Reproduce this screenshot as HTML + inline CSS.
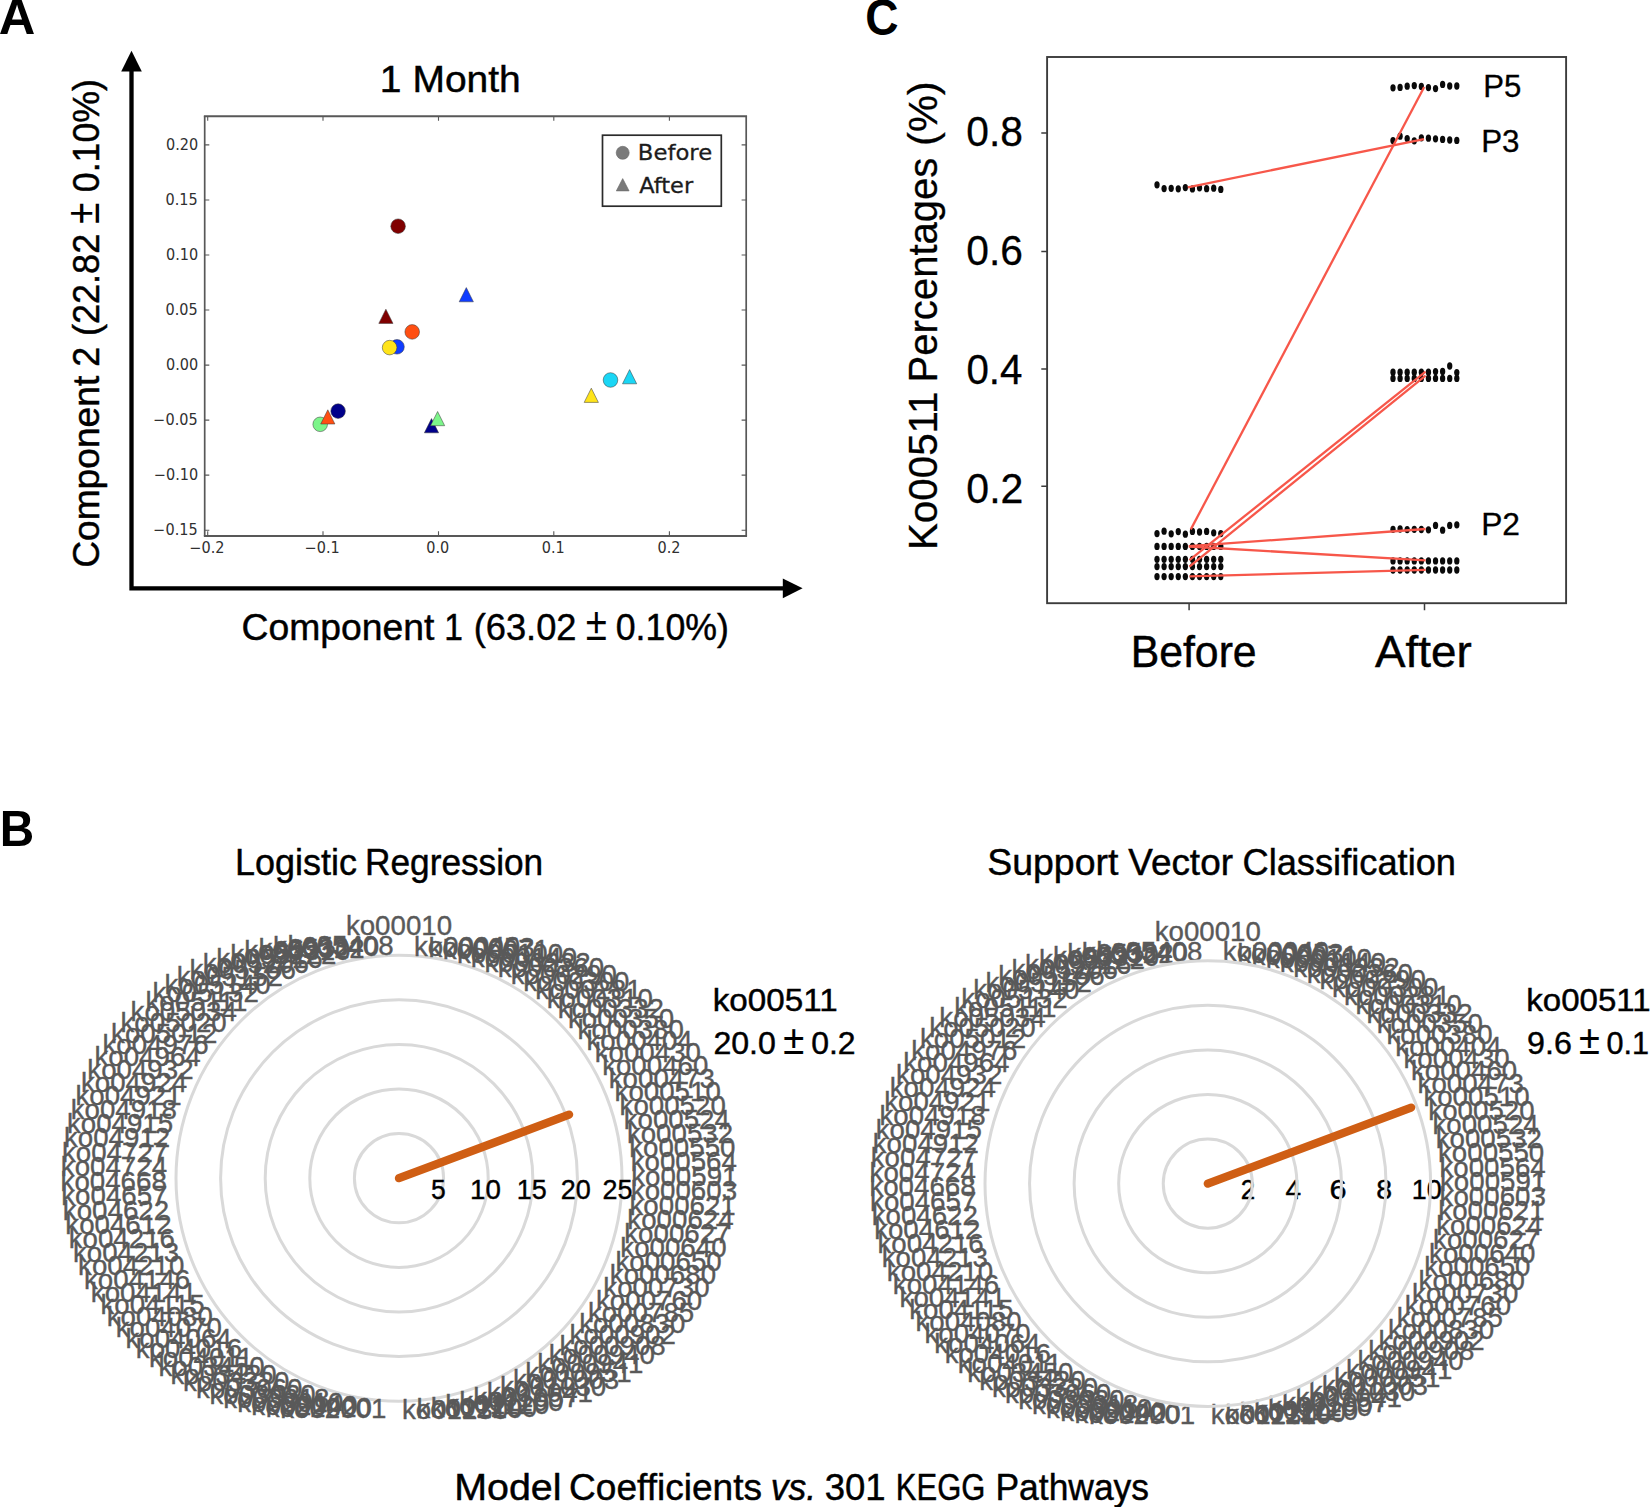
<!DOCTYPE html>
<html lang="en">
<head>
<meta charset="utf-8">
<title>Figure: PCA, model coefficients and Ko00511 percentages</title>
<style>
html,body{margin:0;padding:0;background:#fff;}
body{width:1650px;height:1507px;overflow:hidden;}
svg{display:block;font-family:"Liberation Sans", Arial, sans-serif;}
svg .dj{font-family:"DejaVu Sans", "Liberation Sans", sans-serif;}
</style>
</head>
<body>
<svg width="1650" height="1507" viewBox="0 0 1650 1507">
<rect x="0" y="0" width="1650" height="1507" fill="#ffffff"/>
<g id="panelA">
<text x="-1.26" y="34.30" font-size="49.5" fill="#000" textLength="36.54" lengthAdjust="spacingAndGlyphs" font-weight="bold">A</text>
<path d="M131.5 70 L131.5 588.3 L783.5 588.3" fill="none" stroke="#000" stroke-width="4.3" stroke-linejoin="miter"/>
<path d="M131.5 50.8 L121.2 71.6 L141.8 71.6 Z" fill="#000"/>
<path d="M802.6 588.3 L782.8 578.4 L782.8 598.1999999999999 Z" fill="#000"/>
<text x="379.88" y="91.50" font-size="36.7" fill="#000" textLength="140.90" lengthAdjust="spacingAndGlyphs" stroke="#000" stroke-width="0.45">1 Month</text>
<rect x="204.7" y="116.2" width="541.50" height="419.70" fill="#fff" stroke="none"/>
<path d="M203.85 116.2 H747.0500000000001 M203.85 535.9 H747.0500000000001" stroke="#585858" stroke-width="2.0" fill="none"/>
<path d="M204.7 116.2 V535.9 M746.2 116.2 V535.9" stroke="#585858" stroke-width="1.7" fill="none"/>
<path d="M207.7 535.9 v-4.6 M207.7 116.2 v4.6 M323.0 535.9 v-4.6 M323.0 116.2 v4.6 M438.5 535.9 v-4.6 M438.5 116.2 v4.6 M553.8 535.9 v-4.6 M553.8 116.2 v4.6 M669.4 535.9 v-4.6 M669.4 116.2 v4.6 M204.7 144.9 h4.6 M746.2 144.9 h-4.6 M204.7 200.0 h4.6 M746.2 200.0 h-4.6 M204.7 255.0 h4.6 M746.2 255.0 h-4.6 M204.7 310.0 h4.6 M746.2 310.0 h-4.6 M204.7 365.1 h4.6 M746.2 365.1 h-4.6 M204.7 420.1 h4.6 M746.2 420.1 h-4.6 M204.7 475.1 h4.6 M746.2 475.1 h-4.6 M204.7 530.2 h4.6 M746.2 530.2 h-4.6 " stroke="#585858" stroke-width="1.1" fill="none"/>
<text x="189.41" y="553.20" font-size="15.5" fill="#303030" textLength="35.09" lengthAdjust="spacingAndGlyphs" class="dj">−0.2</text>
<text x="304.65" y="553.20" font-size="15.5" fill="#303030" textLength="35.09" lengthAdjust="spacingAndGlyphs" class="dj">−0.1</text>
<text x="426.31" y="553.20" font-size="15.5" fill="#303030" textLength="22.98" lengthAdjust="spacingAndGlyphs" class="dj">0.0</text>
<text x="541.79" y="553.20" font-size="15.5" fill="#303030" textLength="22.98" lengthAdjust="spacingAndGlyphs" class="dj">0.1</text>
<text x="657.45" y="553.20" font-size="15.5" fill="#303030" textLength="22.98" lengthAdjust="spacingAndGlyphs" class="dj">0.2</text>
<text x="166.09" y="149.90" font-size="15.5" fill="#303030" textLength="32.18" lengthAdjust="spacingAndGlyphs" class="dj">0.20</text>
<text x="165.47" y="205.00" font-size="15.5" fill="#303030" textLength="32.18" lengthAdjust="spacingAndGlyphs" class="dj">0.15</text>
<text x="166.09" y="260.00" font-size="15.5" fill="#303030" textLength="32.18" lengthAdjust="spacingAndGlyphs" class="dj">0.10</text>
<text x="165.47" y="315.00" font-size="15.5" fill="#303030" textLength="32.18" lengthAdjust="spacingAndGlyphs" class="dj">0.05</text>
<text x="166.09" y="370.10" font-size="15.5" fill="#303030" textLength="32.18" lengthAdjust="spacingAndGlyphs" class="dj">0.00</text>
<text x="153.37" y="425.10" font-size="15.5" fill="#303030" textLength="44.29" lengthAdjust="spacingAndGlyphs" class="dj">−0.05</text>
<text x="153.98" y="480.10" font-size="15.5" fill="#303030" textLength="44.29" lengthAdjust="spacingAndGlyphs" class="dj">−0.10</text>
<text x="153.37" y="535.20" font-size="15.5" fill="#303030" textLength="44.29" lengthAdjust="spacingAndGlyphs" class="dj">−0.15</text>
<rect x="602.5" y="135.2" width="118.8" height="71.0" fill="#fff" stroke="#2b2b2b" stroke-width="1.7"/>
<circle cx="622.7" cy="152.8" r="6.5" fill="#7a7a7a" stroke="#666" stroke-width="0.6"/>
<path d="M622.7 178.6 L629.1 190.9 L616.3 190.9 Z" fill="#7a7a7a" stroke="#666" stroke-width="0.6"/>
<text x="637.78" y="159.80" font-size="21.8" fill="#1c1c1c" textLength="74.40" lengthAdjust="spacingAndGlyphs" class="dj" stroke="#1c1c1c" stroke-width="0.3">Before</text>
<text x="639.23" y="192.80" font-size="21.8" fill="#1c1c1c" textLength="53.94" lengthAdjust="spacingAndGlyphs" class="dj" stroke="#1c1c1c" stroke-width="0.3">After</text>
<circle cx="398.1" cy="226.2" r="7.3" fill="#800000" stroke="#3b3b3b" stroke-width="0.7" stroke-opacity="0.75"/>
<path d="M466.3 287.6 L473.4 301.8 L459.2 301.8 Z" fill="#0f3cff" stroke="#3b3b3b" stroke-width="0.7" stroke-opacity="0.75" stroke-linejoin="miter"/>
<path d="M385.9 309.2 L393.0 323.4 L378.8 323.4 Z" fill="#800000" stroke="#3b3b3b" stroke-width="0.7" stroke-opacity="0.75" stroke-linejoin="miter"/>
<circle cx="412.2" cy="331.9" r="7.3" fill="#ff4f12" stroke="#3b3b3b" stroke-width="0.7" stroke-opacity="0.75"/>
<circle cx="397.0" cy="346.8" r="7.3" fill="#0f3cff" stroke="#3b3b3b" stroke-width="0.7" stroke-opacity="0.75"/>
<circle cx="389.6" cy="347.6" r="7.3" fill="#ffe41a" stroke="#3b3b3b" stroke-width="0.7" stroke-opacity="0.75"/>
<circle cx="320.2" cy="424.3" r="7.3" fill="#7cf58a" stroke="#3b3b3b" stroke-width="0.7" stroke-opacity="0.75"/>
<path d="M327.8 409.8 L334.9 424.0 L320.7 424.0 Z" fill="#ff4f12" stroke="#3b3b3b" stroke-width="0.7" stroke-opacity="0.75" stroke-linejoin="miter"/>
<circle cx="338.1" cy="411.1" r="7.3" fill="#00008a" stroke="#3b3b3b" stroke-width="0.7" stroke-opacity="0.75"/>
<path d="M431.5 418.6 L438.6 432.8 L424.4 432.8 Z" fill="#00008a" stroke="#3b3b3b" stroke-width="0.7" stroke-opacity="0.75" stroke-linejoin="miter"/>
<path d="M437.6 411.5 L444.7 425.7 L430.5 425.7 Z" fill="#7cf58a" stroke="#3b3b3b" stroke-width="0.7" stroke-opacity="0.75" stroke-linejoin="miter"/>
<path d="M591.3 388.2 L598.4 402.4 L584.2 402.4 Z" fill="#ffe41a" stroke="#3b3b3b" stroke-width="0.7" stroke-opacity="0.75" stroke-linejoin="miter"/>
<circle cx="610.5" cy="380.0" r="7.3" fill="#1ad6f5" stroke="#3b3b3b" stroke-width="0.7" stroke-opacity="0.75"/>
<path d="M629.6 369.6 L636.7 383.8 L622.5 383.8 Z" fill="#1ad6f5" stroke="#3b3b3b" stroke-width="0.7" stroke-opacity="0.75" stroke-linejoin="miter"/>
<text x="241.53" y="639.50" font-size="36.7" fill="#000" textLength="192.85" lengthAdjust="spacingAndGlyphs" stroke="#000" stroke-width="0.45">Component</text>
<text x="444.19" y="639.50" font-size="36.7" fill="#000" textLength="18.65" lengthAdjust="spacingAndGlyphs" stroke="#000" stroke-width="0.45">1</text>
<text x="473.73" y="639.50" font-size="36.7" fill="#000" textLength="102.80" lengthAdjust="spacingAndGlyphs" stroke="#000" stroke-width="0.45">(63.02</text>
<text x="585.65" y="639.50" font-size="46.976000000000006" fill="#000" textLength="21.16" lengthAdjust="spacingAndGlyphs">±</text>
<text x="615.77" y="639.50" font-size="36.7" fill="#000" textLength="113.11" lengthAdjust="spacingAndGlyphs" stroke="#000" stroke-width="0.45">0.10%)</text>
<text x="98.80" y="567.86" transform="rotate(-90 98.80 567.86)" font-size="36.7" fill="#000" textLength="192.14" lengthAdjust="spacingAndGlyphs" stroke="#000" stroke-width="0.45">Component</text>
<text x="98.80" y="366.69" transform="rotate(-90 98.80 366.69)" font-size="36.7" fill="#000" textLength="19.92" lengthAdjust="spacingAndGlyphs" stroke="#000" stroke-width="0.45">2</text>
<text x="98.80" y="336.05" transform="rotate(-90 98.80 336.05)" font-size="36.7" fill="#000" textLength="102.28" lengthAdjust="spacingAndGlyphs" stroke="#000" stroke-width="0.45">(22.82</text>
<text x="98.80" y="224.07" transform="rotate(-90 98.80 224.07)" font-size="46.976000000000006" fill="#000" textLength="21.39" lengthAdjust="spacingAndGlyphs">±</text>
<text x="98.80" y="192.23" transform="rotate(-90 98.80 192.23)" font-size="36.7" fill="#000" textLength="113.21" lengthAdjust="spacingAndGlyphs" stroke="#000" stroke-width="0.45">0.10%)</text>
</g>
<g id="panelC">
<text x="865.26" y="34.50" font-size="49.5" fill="#000" textLength="33.30" lengthAdjust="spacingAndGlyphs" font-weight="bold">C</text>
<rect x="1047.1" y="57.0" width="519.00" height="546.20" fill="#fff" stroke="#3c3c3c" stroke-width="1.9"/>
<path d="M1047.1 133.1 h-5.8 M1047.1 251.4 h-5.8 M1047.1 369.1 h-5.8 M1047.1 486.3 h-5.8 M1189.1 603.2 v7 M1424.5 603.2 v7 " stroke="#3c3c3c" stroke-width="1.5" fill="none"/>
<text x="966.37" y="145.90" font-size="42.5" fill="#000" textLength="56.67" lengthAdjust="spacingAndGlyphs" stroke="#000" stroke-width="0.3">0.8</text>
<text x="966.37" y="265.20" font-size="42.5" fill="#000" textLength="56.67" lengthAdjust="spacingAndGlyphs" stroke="#000" stroke-width="0.3">0.6</text>
<text x="966.39" y="384.10" font-size="42.5" fill="#000" textLength="56.03" lengthAdjust="spacingAndGlyphs" stroke="#000" stroke-width="0.3">0.4</text>
<text x="966.36" y="503.20" font-size="42.5" fill="#000" textLength="57.00" lengthAdjust="spacingAndGlyphs" stroke="#000" stroke-width="0.3">0.2</text>
<text x="937.30" y="550.03" transform="rotate(-90 937.30 550.03)" font-size="41.0" fill="#000" textLength="158.54" lengthAdjust="spacingAndGlyphs" stroke="#000" stroke-width="0.3">Ko00511</text>
<text x="937.30" y="382.50" transform="rotate(-90 937.30 382.50)" font-size="41.0" fill="#000" textLength="224.90" lengthAdjust="spacingAndGlyphs" stroke="#000" stroke-width="0.3">Percentages</text>
<text x="937.30" y="145.90" transform="rotate(-90 937.30 145.90)" font-size="41.0" fill="#000" textLength="64.60" lengthAdjust="spacingAndGlyphs" stroke="#000" stroke-width="0.3">(%)</text>
<text x="1130.67" y="666.80" font-size="43.5" fill="#000" textLength="126.00" lengthAdjust="spacingAndGlyphs" stroke="#000" stroke-width="0.45">Before</text>
<text x="1374.99" y="666.80" font-size="43.5" fill="#000" textLength="96.67" lengthAdjust="spacingAndGlyphs" stroke="#000" stroke-width="0.45">After</text>
<text x="1483.23" y="96.60" font-size="31.3" fill="#000" textLength="38.14" lengthAdjust="spacingAndGlyphs" stroke="#000" stroke-width="0.3">P5</text>
<text x="1481.21" y="151.60" font-size="31.3" fill="#000" textLength="38.34" lengthAdjust="spacingAndGlyphs" stroke="#000" stroke-width="0.3">P3</text>
<text x="1481.18" y="534.80" font-size="31.3" fill="#000" textLength="38.83" lengthAdjust="spacingAndGlyphs" stroke="#000" stroke-width="0.3">P2</text>
<ellipse cx="1157.00" cy="184.80" rx="2.65" ry="3.65" fill="#0a0a0a"/>
<ellipse cx="1164.09" cy="188.60" rx="2.65" ry="3.65" fill="#0a0a0a"/>
<ellipse cx="1171.18" cy="188.30" rx="2.65" ry="3.65" fill="#0a0a0a"/>
<ellipse cx="1178.27" cy="188.80" rx="2.65" ry="3.65" fill="#0a0a0a"/>
<ellipse cx="1185.36" cy="187.60" rx="2.65" ry="3.65" fill="#0a0a0a"/>
<ellipse cx="1192.44" cy="188.90" rx="2.65" ry="3.65" fill="#0a0a0a"/>
<ellipse cx="1199.53" cy="187.80" rx="2.65" ry="3.65" fill="#0a0a0a"/>
<ellipse cx="1206.62" cy="188.70" rx="2.65" ry="3.65" fill="#0a0a0a"/>
<ellipse cx="1213.71" cy="188.20" rx="2.65" ry="3.65" fill="#0a0a0a"/>
<ellipse cx="1220.80" cy="189.40" rx="2.65" ry="3.65" fill="#0a0a0a"/>
<ellipse cx="1157.00" cy="533.60" rx="2.65" ry="3.65" fill="#0a0a0a"/>
<ellipse cx="1164.09" cy="531.20" rx="2.65" ry="3.65" fill="#0a0a0a"/>
<ellipse cx="1171.18" cy="533.80" rx="2.65" ry="3.65" fill="#0a0a0a"/>
<ellipse cx="1178.27" cy="531.60" rx="2.65" ry="3.65" fill="#0a0a0a"/>
<ellipse cx="1185.36" cy="534.20" rx="2.65" ry="3.65" fill="#0a0a0a"/>
<ellipse cx="1192.44" cy="531.40" rx="2.65" ry="3.65" fill="#0a0a0a"/>
<ellipse cx="1199.53" cy="532.00" rx="2.65" ry="3.65" fill="#0a0a0a"/>
<ellipse cx="1206.62" cy="531.40" rx="2.65" ry="3.65" fill="#0a0a0a"/>
<ellipse cx="1213.71" cy="532.80" rx="2.65" ry="3.65" fill="#0a0a0a"/>
<ellipse cx="1220.80" cy="533.60" rx="2.65" ry="3.65" fill="#0a0a0a"/>
<ellipse cx="1157.00" cy="546.40" rx="2.65" ry="3.65" fill="#0a0a0a"/>
<ellipse cx="1164.09" cy="546.40" rx="2.65" ry="3.65" fill="#0a0a0a"/>
<ellipse cx="1171.18" cy="546.40" rx="2.65" ry="3.65" fill="#0a0a0a"/>
<ellipse cx="1178.27" cy="546.40" rx="2.65" ry="3.65" fill="#0a0a0a"/>
<ellipse cx="1185.36" cy="546.40" rx="2.65" ry="3.65" fill="#0a0a0a"/>
<ellipse cx="1192.44" cy="546.40" rx="2.65" ry="3.65" fill="#0a0a0a"/>
<ellipse cx="1199.53" cy="546.40" rx="2.65" ry="3.65" fill="#0a0a0a"/>
<ellipse cx="1206.62" cy="546.40" rx="2.65" ry="3.65" fill="#0a0a0a"/>
<ellipse cx="1213.71" cy="546.40" rx="2.65" ry="3.65" fill="#0a0a0a"/>
<ellipse cx="1220.80" cy="546.40" rx="2.65" ry="3.65" fill="#0a0a0a"/>
<ellipse cx="1157.00" cy="559.30" rx="2.65" ry="3.65" fill="#0a0a0a"/>
<ellipse cx="1164.09" cy="559.30" rx="2.65" ry="3.65" fill="#0a0a0a"/>
<ellipse cx="1171.18" cy="559.30" rx="2.65" ry="3.65" fill="#0a0a0a"/>
<ellipse cx="1178.27" cy="559.30" rx="2.65" ry="3.65" fill="#0a0a0a"/>
<ellipse cx="1185.36" cy="559.30" rx="2.65" ry="3.65" fill="#0a0a0a"/>
<ellipse cx="1192.44" cy="559.30" rx="2.65" ry="3.65" fill="#0a0a0a"/>
<ellipse cx="1199.53" cy="559.30" rx="2.65" ry="3.65" fill="#0a0a0a"/>
<ellipse cx="1206.62" cy="559.30" rx="2.65" ry="3.65" fill="#0a0a0a"/>
<ellipse cx="1213.71" cy="559.30" rx="2.65" ry="3.65" fill="#0a0a0a"/>
<ellipse cx="1220.80" cy="559.30" rx="2.65" ry="3.65" fill="#0a0a0a"/>
<ellipse cx="1157.00" cy="566.60" rx="2.65" ry="3.65" fill="#0a0a0a"/>
<ellipse cx="1164.09" cy="566.60" rx="2.65" ry="3.65" fill="#0a0a0a"/>
<ellipse cx="1171.18" cy="566.60" rx="2.65" ry="3.65" fill="#0a0a0a"/>
<ellipse cx="1178.27" cy="566.60" rx="2.65" ry="3.65" fill="#0a0a0a"/>
<ellipse cx="1185.36" cy="566.60" rx="2.65" ry="3.65" fill="#0a0a0a"/>
<ellipse cx="1192.44" cy="566.60" rx="2.65" ry="3.65" fill="#0a0a0a"/>
<ellipse cx="1199.53" cy="566.60" rx="2.65" ry="3.65" fill="#0a0a0a"/>
<ellipse cx="1206.62" cy="566.60" rx="2.65" ry="3.65" fill="#0a0a0a"/>
<ellipse cx="1213.71" cy="566.60" rx="2.65" ry="3.65" fill="#0a0a0a"/>
<ellipse cx="1220.80" cy="566.60" rx="2.65" ry="3.65" fill="#0a0a0a"/>
<ellipse cx="1157.00" cy="576.60" rx="2.65" ry="3.65" fill="#0a0a0a"/>
<ellipse cx="1164.09" cy="576.60" rx="2.65" ry="3.65" fill="#0a0a0a"/>
<ellipse cx="1171.18" cy="576.60" rx="2.65" ry="3.65" fill="#0a0a0a"/>
<ellipse cx="1178.27" cy="576.60" rx="2.65" ry="3.65" fill="#0a0a0a"/>
<ellipse cx="1185.36" cy="576.60" rx="2.65" ry="3.65" fill="#0a0a0a"/>
<ellipse cx="1192.44" cy="576.60" rx="2.65" ry="3.65" fill="#0a0a0a"/>
<ellipse cx="1199.53" cy="576.60" rx="2.65" ry="3.65" fill="#0a0a0a"/>
<ellipse cx="1206.62" cy="576.60" rx="2.65" ry="3.65" fill="#0a0a0a"/>
<ellipse cx="1213.71" cy="576.60" rx="2.65" ry="3.65" fill="#0a0a0a"/>
<ellipse cx="1220.80" cy="576.60" rx="2.65" ry="3.65" fill="#0a0a0a"/>
<ellipse cx="1393.00" cy="87.80" rx="2.65" ry="3.65" fill="#0a0a0a"/>
<ellipse cx="1400.09" cy="87.40" rx="2.65" ry="3.65" fill="#0a0a0a"/>
<ellipse cx="1407.18" cy="86.20" rx="2.65" ry="3.65" fill="#0a0a0a"/>
<ellipse cx="1414.27" cy="85.60" rx="2.65" ry="3.65" fill="#0a0a0a"/>
<ellipse cx="1421.36" cy="86.40" rx="2.65" ry="3.65" fill="#0a0a0a"/>
<ellipse cx="1428.44" cy="87.60" rx="2.65" ry="3.65" fill="#0a0a0a"/>
<ellipse cx="1435.53" cy="88.60" rx="2.65" ry="3.65" fill="#0a0a0a"/>
<ellipse cx="1442.62" cy="84.40" rx="2.65" ry="3.65" fill="#0a0a0a"/>
<ellipse cx="1449.71" cy="86.00" rx="2.65" ry="3.65" fill="#0a0a0a"/>
<ellipse cx="1456.80" cy="86.00" rx="2.65" ry="3.65" fill="#0a0a0a"/>
<ellipse cx="1393.00" cy="140.60" rx="2.65" ry="3.65" fill="#0a0a0a"/>
<ellipse cx="1400.09" cy="136.20" rx="2.65" ry="3.65" fill="#0a0a0a"/>
<ellipse cx="1407.18" cy="138.60" rx="2.65" ry="3.65" fill="#0a0a0a"/>
<ellipse cx="1414.27" cy="140.80" rx="2.65" ry="3.65" fill="#0a0a0a"/>
<ellipse cx="1421.36" cy="137.80" rx="2.65" ry="3.65" fill="#0a0a0a"/>
<ellipse cx="1428.44" cy="138.20" rx="2.65" ry="3.65" fill="#0a0a0a"/>
<ellipse cx="1435.53" cy="138.80" rx="2.65" ry="3.65" fill="#0a0a0a"/>
<ellipse cx="1442.62" cy="139.40" rx="2.65" ry="3.65" fill="#0a0a0a"/>
<ellipse cx="1449.71" cy="140.00" rx="2.65" ry="3.65" fill="#0a0a0a"/>
<ellipse cx="1456.80" cy="140.40" rx="2.65" ry="3.65" fill="#0a0a0a"/>
<ellipse cx="1393.00" cy="372.20" rx="2.65" ry="3.65" fill="#0a0a0a"/>
<ellipse cx="1400.09" cy="372.20" rx="2.65" ry="3.65" fill="#0a0a0a"/>
<ellipse cx="1407.18" cy="372.20" rx="2.65" ry="3.65" fill="#0a0a0a"/>
<ellipse cx="1414.27" cy="372.20" rx="2.65" ry="3.65" fill="#0a0a0a"/>
<ellipse cx="1421.36" cy="372.20" rx="2.65" ry="3.65" fill="#0a0a0a"/>
<ellipse cx="1428.44" cy="372.20" rx="2.65" ry="3.65" fill="#0a0a0a"/>
<ellipse cx="1435.53" cy="371.60" rx="2.65" ry="3.65" fill="#0a0a0a"/>
<ellipse cx="1442.62" cy="371.40" rx="2.65" ry="3.65" fill="#0a0a0a"/>
<ellipse cx="1449.71" cy="366.00" rx="2.65" ry="3.65" fill="#0a0a0a"/>
<ellipse cx="1456.80" cy="372.60" rx="2.65" ry="3.65" fill="#0a0a0a"/>
<ellipse cx="1393.00" cy="378.40" rx="2.65" ry="3.65" fill="#0a0a0a"/>
<ellipse cx="1400.09" cy="378.40" rx="2.65" ry="3.65" fill="#0a0a0a"/>
<ellipse cx="1407.18" cy="378.40" rx="2.65" ry="3.65" fill="#0a0a0a"/>
<ellipse cx="1414.27" cy="378.40" rx="2.65" ry="3.65" fill="#0a0a0a"/>
<ellipse cx="1421.36" cy="378.40" rx="2.65" ry="3.65" fill="#0a0a0a"/>
<ellipse cx="1428.44" cy="378.40" rx="2.65" ry="3.65" fill="#0a0a0a"/>
<ellipse cx="1435.53" cy="378.40" rx="2.65" ry="3.65" fill="#0a0a0a"/>
<ellipse cx="1442.62" cy="378.40" rx="2.65" ry="3.65" fill="#0a0a0a"/>
<ellipse cx="1449.71" cy="378.40" rx="2.65" ry="3.65" fill="#0a0a0a"/>
<ellipse cx="1456.80" cy="378.40" rx="2.65" ry="3.65" fill="#0a0a0a"/>
<ellipse cx="1393.00" cy="529.30" rx="2.65" ry="3.65" fill="#0a0a0a"/>
<ellipse cx="1400.09" cy="529.00" rx="2.65" ry="3.65" fill="#0a0a0a"/>
<ellipse cx="1407.18" cy="529.60" rx="2.65" ry="3.65" fill="#0a0a0a"/>
<ellipse cx="1414.27" cy="529.30" rx="2.65" ry="3.65" fill="#0a0a0a"/>
<ellipse cx="1421.36" cy="529.50" rx="2.65" ry="3.65" fill="#0a0a0a"/>
<ellipse cx="1428.44" cy="529.80" rx="2.65" ry="3.65" fill="#0a0a0a"/>
<ellipse cx="1435.53" cy="525.40" rx="2.65" ry="3.65" fill="#0a0a0a"/>
<ellipse cx="1442.62" cy="530.20" rx="2.65" ry="3.65" fill="#0a0a0a"/>
<ellipse cx="1449.71" cy="525.40" rx="2.65" ry="3.65" fill="#0a0a0a"/>
<ellipse cx="1456.80" cy="524.80" rx="2.65" ry="3.65" fill="#0a0a0a"/>
<ellipse cx="1393.00" cy="560.90" rx="2.65" ry="3.65" fill="#0a0a0a"/>
<ellipse cx="1400.09" cy="560.90" rx="2.65" ry="3.65" fill="#0a0a0a"/>
<ellipse cx="1407.18" cy="560.90" rx="2.65" ry="3.65" fill="#0a0a0a"/>
<ellipse cx="1414.27" cy="560.90" rx="2.65" ry="3.65" fill="#0a0a0a"/>
<ellipse cx="1421.36" cy="560.90" rx="2.65" ry="3.65" fill="#0a0a0a"/>
<ellipse cx="1428.44" cy="560.90" rx="2.65" ry="3.65" fill="#0a0a0a"/>
<ellipse cx="1435.53" cy="560.90" rx="2.65" ry="3.65" fill="#0a0a0a"/>
<ellipse cx="1442.62" cy="560.90" rx="2.65" ry="3.65" fill="#0a0a0a"/>
<ellipse cx="1449.71" cy="560.90" rx="2.65" ry="3.65" fill="#0a0a0a"/>
<ellipse cx="1456.80" cy="560.90" rx="2.65" ry="3.65" fill="#0a0a0a"/>
<ellipse cx="1393.00" cy="570.00" rx="2.65" ry="3.65" fill="#0a0a0a"/>
<ellipse cx="1400.09" cy="570.00" rx="2.65" ry="3.65" fill="#0a0a0a"/>
<ellipse cx="1407.18" cy="570.00" rx="2.65" ry="3.65" fill="#0a0a0a"/>
<ellipse cx="1414.27" cy="570.00" rx="2.65" ry="3.65" fill="#0a0a0a"/>
<ellipse cx="1421.36" cy="570.00" rx="2.65" ry="3.65" fill="#0a0a0a"/>
<ellipse cx="1428.44" cy="570.00" rx="2.65" ry="3.65" fill="#0a0a0a"/>
<ellipse cx="1435.53" cy="570.00" rx="2.65" ry="3.65" fill="#0a0a0a"/>
<ellipse cx="1442.62" cy="570.00" rx="2.65" ry="3.65" fill="#0a0a0a"/>
<ellipse cx="1449.71" cy="570.00" rx="2.65" ry="3.65" fill="#0a0a0a"/>
<ellipse cx="1456.80" cy="570.00" rx="2.65" ry="3.65" fill="#0a0a0a"/>
<line x1="1187.8" y1="187.3" x2="1424.0" y2="139.1" stroke="#f7574a" stroke-width="2.3"/>
<line x1="1190.8" y1="529.4" x2="1424.2" y2="87.0" stroke="#f7574a" stroke-width="2.3"/>
<line x1="1189.4" y1="560.2" x2="1425.6" y2="371.6" stroke="#f7574a" stroke-width="2.3"/>
<line x1="1189.4" y1="566.6" x2="1425.6" y2="375.6" stroke="#f7574a" stroke-width="2.3"/>
<line x1="1188.8" y1="546.2" x2="1425.6" y2="529.0" stroke="#f7574a" stroke-width="2.3"/>
<line x1="1188.8" y1="546.5" x2="1425.6" y2="560.4" stroke="#f7574a" stroke-width="2.3"/>
<line x1="1189.4" y1="576.4" x2="1425.6" y2="569.8" stroke="#f7574a" stroke-width="2.3"/>
</g>
<g id="panelB">
<text x="-0.32" y="846.00" font-size="49.5" fill="#000" textLength="34.45" lengthAdjust="spacingAndGlyphs" font-weight="bold">B</text>
<text x="235.03" y="875.40" font-size="36.7" fill="#000" textLength="121.98" lengthAdjust="spacingAndGlyphs" stroke="#000" stroke-width="0.45">Logistic</text>
<text x="365.09" y="875.40" font-size="36.7" fill="#000" textLength="178.13" lengthAdjust="spacingAndGlyphs" stroke="#000" stroke-width="0.45">Regression</text>
<text x="987.21" y="875.40" font-size="36.7" fill="#000" textLength="131.17" lengthAdjust="spacingAndGlyphs" stroke="#000" stroke-width="0.45">Support</text>
<text x="1128.32" y="875.40" font-size="36.7" fill="#000" textLength="104.64" lengthAdjust="spacingAndGlyphs" stroke="#000" stroke-width="0.45">Vector</text>
<text x="1242.49" y="875.40" font-size="36.7" fill="#000" textLength="213.53" lengthAdjust="spacingAndGlyphs" stroke="#000" stroke-width="0.45">Classification</text>
<circle cx="399.0" cy="1178.2" r="44.60" fill="none" stroke="#d9d9d9" stroke-width="3.0"/>
<circle cx="399.0" cy="1178.2" r="89.20" fill="none" stroke="#d9d9d9" stroke-width="3.0"/>
<circle cx="399.0" cy="1178.2" r="133.80" fill="none" stroke="#d9d9d9" stroke-width="3.0"/>
<circle cx="399.0" cy="1178.2" r="178.40" fill="none" stroke="#d9d9d9" stroke-width="3.0"/>
<circle cx="399.0" cy="1178.2" r="223.00" fill="none" stroke="#d9d9d9" stroke-width="3.0"/>
<g font-size="27.7" fill="#595959" stroke="#595959" stroke-width="0.35">
<text x="399.00" y="935.20" text-anchor="middle">ko00010</text>
<text x="414.00" y="955.85">ko00040</text>
<text x="428.44" y="957.21">ko00053</text>
<text x="442.77" y="959.48">ko00071</text>
<text x="456.93" y="962.63">ko00100</text>
<text x="470.87" y="966.67">ko00140</text>
<text x="484.52" y="971.56">ko00232</text>
<text x="497.85" y="977.31">ko00260</text>
<text x="510.78" y="983.87">ko00290</text>
<text x="523.28" y="991.24">ko00300</text>
<text x="535.30" y="999.37">ko00281</text>
<text x="546.78" y="1008.23">ko00310</text>
<text x="557.69" y="1017.80">ko00332</text>
<text x="567.97" y="1028.03">ko00350</text>
<text x="577.60" y="1038.89">ko00380</text>
<text x="586.52" y="1050.32">ko00404</text>
<text x="594.72" y="1062.30">ko00430</text>
<text x="602.14" y="1074.76">ko00460</text>
<text x="608.78" y="1087.66">ko00473</text>
<text x="614.59" y="1100.95">ko00510</text>
<text x="619.56" y="1114.58">ko00520</text>
<text x="623.67" y="1128.50">ko00524</text>
<text x="626.89" y="1142.64">ko00532</text>
<text x="629.23" y="1156.96">ko00550</text>
<text x="630.67" y="1171.39">ko00564</text>
<text x="631.20" y="1185.89">ko00591</text>
<text x="630.82" y="1200.39">ko00603</text>
<text x="629.53" y="1214.84">ko00621</text>
<text x="627.35" y="1229.19">ko00624</text>
<text x="624.27" y="1243.36">ko00627</text>
<text x="620.30" y="1257.32">ko00640</text>
<text x="615.48" y="1271.00">ko00650</text>
<text x="609.80" y="1284.35">ko00680</text>
<text x="603.30" y="1297.32">ko00730</text>
<text x="596.01" y="1309.86">ko00760</text>
<text x="587.94" y="1321.92">ko00785</text>
<text x="579.13" y="1333.45">ko00830</text>
<text x="569.62" y="1344.40">ko00902</text>
<text x="559.44" y="1354.74">ko00908</text>
<text x="548.64" y="1364.42">ko00940</text>
<text x="537.25" y="1373.41">ko00941</text>
<text x="525.32" y="1381.66">ko00951</text>
<text x="512.90" y="1389.15">ko01003</text>
<text x="500.03" y="1395.85">ko01030</text>
<text x="486.77" y="1401.74">ko01041</text>
<text x="473.17" y="1406.78">ko01057</text>
<text x="459.27" y="1410.96">ko01100</text>
<text x="445.15" y="1414.26">ko01120</text>
<text x="430.84" y="1416.67">ko01200</text>
<text x="416.41" y="1418.18">ko01210</text>
<text x="401.92" y="1418.79">ko01230</text>
<text x="386.41" y="1418.48" text-anchor="end">ko02001</text>
<text x="371.96" y="1417.27" text-anchor="end">ko02020</text>
<text x="357.60" y="1415.16" text-anchor="end">ko02040</text>
<text x="343.41" y="1412.16" text-anchor="end">ko03010</text>
<text x="329.44" y="1408.27" text-anchor="end">ko03018</text>
<text x="315.73" y="1403.51" text-anchor="end">ko03030</text>
<text x="302.35" y="1397.91" text-anchor="end">ko03060</text>
<text x="289.34" y="1391.48" text-anchor="end">ko03320</text>
<text x="276.77" y="1384.24" text-anchor="end">ko03420</text>
<text x="264.67" y="1376.24" text-anchor="end">ko03450</text>
<text x="253.09" y="1367.49" text-anchor="end">ko04011</text>
<text x="242.09" y="1358.04" text-anchor="end">ko04016</text>
<text x="231.70" y="1347.92" text-anchor="end">ko04064</text>
<text x="221.96" y="1337.16" text-anchor="end">ko04070</text>
<text x="212.92" y="1325.82" text-anchor="end">ko04080</text>
<text x="204.60" y="1313.93" text-anchor="end">ko04115</text>
<text x="197.04" y="1301.55" text-anchor="end">ko04141</text>
<text x="190.27" y="1288.72" text-anchor="end">ko04146</text>
<text x="184.32" y="1275.49" text-anchor="end">ko04210</text>
<text x="179.21" y="1261.91" text-anchor="end">ko04213</text>
<text x="174.96" y="1248.04" text-anchor="end">ko04216</text>
<text x="171.58" y="1233.93" text-anchor="end">ko04612</text>
<text x="169.10" y="1219.64" text-anchor="end">ko04622</text>
<text x="167.51" y="1205.22" text-anchor="end">ko04657</text>
<text x="166.83" y="1190.73" text-anchor="end">ko04668</text>
<text x="167.06" y="1176.22" text-anchor="end">ko04724</text>
<text x="168.19" y="1161.76" text-anchor="end">ko04727</text>
<text x="170.23" y="1147.40" text-anchor="end">ko04912</text>
<text x="173.16" y="1133.19" text-anchor="end">ko04915</text>
<text x="176.98" y="1119.19" text-anchor="end">ko04918</text>
<text x="181.66" y="1105.46" text-anchor="end">ko04921</text>
<text x="187.19" y="1092.05" text-anchor="end">ko04924</text>
<text x="193.56" y="1079.01" text-anchor="end">ko04932</text>
<text x="200.72" y="1066.40" text-anchor="end">ko04964</text>
<text x="208.66" y="1054.26" text-anchor="end">ko04976</text>
<text x="217.35" y="1042.64" text-anchor="end">ko05012</text>
<text x="226.75" y="1031.58" text-anchor="end">ko05020</text>
<text x="236.81" y="1021.14" text-anchor="end">ko05034</text>
<text x="247.52" y="1011.35" text-anchor="end">ko05111</text>
<text x="258.81" y="1002.24" text-anchor="end">ko05132</text>
<text x="270.66" y="993.86" text-anchor="end">ko05140</text>
<text x="283.00" y="986.24" text-anchor="end">ko05152</text>
<text x="295.80" y="979.41" text-anchor="end">ko05166</text>
<text x="309.00" y="973.39" text-anchor="end">ko05206</text>
<text x="322.55" y="968.20" text-anchor="end">ko05216</text>
<text x="336.39" y="963.88" text-anchor="end">ko05222</text>
<text x="350.48" y="960.43" text-anchor="end">ko05310</text>
<text x="364.76" y="957.87" text-anchor="end">ko05322</text>
<text x="379.18" y="956.21" text-anchor="end">ko05340</text>
<text x="393.66" y="955.45" text-anchor="end">ko05408</text>
</g>
<text x="430.94" y="1198.70" font-size="27.6" fill="#000" textLength="14.75" lengthAdjust="spacingAndGlyphs" stroke="#000" stroke-width="0.4">5</text>
<text x="470.12" y="1198.70" font-size="27.6" fill="#000" textLength="30.78" lengthAdjust="spacingAndGlyphs" stroke="#000" stroke-width="0.4">10</text>
<text x="516.68" y="1198.70" font-size="27.6" fill="#000" textLength="29.96" lengthAdjust="spacingAndGlyphs" stroke="#000" stroke-width="0.4">15</text>
<text x="560.65" y="1198.70" font-size="27.6" fill="#000" textLength="30.03" lengthAdjust="spacingAndGlyphs" stroke="#000" stroke-width="0.4">20</text>
<text x="602.45" y="1198.70" font-size="27.6" fill="#000" textLength="29.99" lengthAdjust="spacingAndGlyphs" stroke="#000" stroke-width="0.4">25</text>
<line x1="399.0" y1="1178.2" x2="569.10" y2="1114.60" stroke="#cf5e14" stroke-width="8.3" stroke-linecap="round"/>
<g font-size="27.7" fill="#595959" stroke="#595959" stroke-width="0.35">
<text x="1207.80" y="940.80" text-anchor="middle">ko00010</text>
<text x="1222.80" y="961.25">ko00040</text>
<text x="1237.24" y="962.61">ko00053</text>
<text x="1251.57" y="964.88">ko00071</text>
<text x="1265.73" y="968.03">ko00100</text>
<text x="1279.67" y="972.07">ko00140</text>
<text x="1293.32" y="976.96">ko00232</text>
<text x="1306.65" y="982.71">ko00260</text>
<text x="1319.58" y="989.27">ko00290</text>
<text x="1332.08" y="996.64">ko00300</text>
<text x="1344.10" y="1004.77">ko00281</text>
<text x="1355.58" y="1013.63">ko00310</text>
<text x="1366.49" y="1023.20">ko00332</text>
<text x="1376.77" y="1033.43">ko00350</text>
<text x="1386.40" y="1044.29">ko00380</text>
<text x="1395.32" y="1055.72">ko00404</text>
<text x="1403.52" y="1067.70">ko00430</text>
<text x="1410.94" y="1080.16">ko00460</text>
<text x="1417.58" y="1093.06">ko00473</text>
<text x="1423.39" y="1106.35">ko00510</text>
<text x="1428.36" y="1119.98">ko00520</text>
<text x="1432.47" y="1133.90">ko00524</text>
<text x="1435.69" y="1148.04">ko00532</text>
<text x="1438.03" y="1162.36">ko00550</text>
<text x="1439.47" y="1176.79">ko00564</text>
<text x="1440.00" y="1191.29">ko00591</text>
<text x="1439.62" y="1205.79">ko00603</text>
<text x="1438.33" y="1220.24">ko00621</text>
<text x="1436.15" y="1234.59">ko00624</text>
<text x="1433.07" y="1248.76">ko00627</text>
<text x="1429.10" y="1262.72">ko00640</text>
<text x="1424.28" y="1276.40">ko00650</text>
<text x="1418.60" y="1289.75">ko00680</text>
<text x="1412.10" y="1302.72">ko00730</text>
<text x="1404.81" y="1315.26">ko00760</text>
<text x="1396.74" y="1327.32">ko00785</text>
<text x="1387.93" y="1338.85">ko00830</text>
<text x="1378.42" y="1349.80">ko00902</text>
<text x="1368.24" y="1360.14">ko00908</text>
<text x="1357.44" y="1369.82">ko00940</text>
<text x="1346.05" y="1378.81">ko00941</text>
<text x="1334.12" y="1387.06">ko00951</text>
<text x="1321.70" y="1394.55">ko01003</text>
<text x="1308.83" y="1401.25">ko01030</text>
<text x="1295.57" y="1407.14">ko01041</text>
<text x="1281.97" y="1412.18">ko01057</text>
<text x="1268.07" y="1416.36">ko01100</text>
<text x="1253.95" y="1419.66">ko01120</text>
<text x="1239.64" y="1422.07">ko01200</text>
<text x="1225.21" y="1423.58">ko01210</text>
<text x="1210.72" y="1424.19">ko01230</text>
<text x="1195.21" y="1423.88" text-anchor="end">ko02001</text>
<text x="1180.76" y="1422.67" text-anchor="end">ko02020</text>
<text x="1166.40" y="1420.56" text-anchor="end">ko02040</text>
<text x="1152.21" y="1417.56" text-anchor="end">ko03010</text>
<text x="1138.24" y="1413.67" text-anchor="end">ko03018</text>
<text x="1124.53" y="1408.91" text-anchor="end">ko03030</text>
<text x="1111.15" y="1403.31" text-anchor="end">ko03060</text>
<text x="1098.14" y="1396.88" text-anchor="end">ko03320</text>
<text x="1085.57" y="1389.64" text-anchor="end">ko03420</text>
<text x="1073.47" y="1381.64" text-anchor="end">ko03450</text>
<text x="1061.89" y="1372.89" text-anchor="end">ko04011</text>
<text x="1050.89" y="1363.44" text-anchor="end">ko04016</text>
<text x="1040.50" y="1353.32" text-anchor="end">ko04064</text>
<text x="1030.76" y="1342.56" text-anchor="end">ko04070</text>
<text x="1021.72" y="1331.22" text-anchor="end">ko04080</text>
<text x="1013.40" y="1319.33" text-anchor="end">ko04115</text>
<text x="1005.84" y="1306.95" text-anchor="end">ko04141</text>
<text x="999.07" y="1294.12" text-anchor="end">ko04146</text>
<text x="993.12" y="1280.89" text-anchor="end">ko04210</text>
<text x="988.01" y="1267.31" text-anchor="end">ko04213</text>
<text x="983.76" y="1253.44" text-anchor="end">ko04216</text>
<text x="980.38" y="1239.33" text-anchor="end">ko04612</text>
<text x="977.90" y="1225.04" text-anchor="end">ko04622</text>
<text x="976.31" y="1210.62" text-anchor="end">ko04657</text>
<text x="975.63" y="1196.13" text-anchor="end">ko04668</text>
<text x="975.86" y="1181.62" text-anchor="end">ko04724</text>
<text x="976.99" y="1167.16" text-anchor="end">ko04727</text>
<text x="979.03" y="1152.80" text-anchor="end">ko04912</text>
<text x="981.96" y="1138.59" text-anchor="end">ko04915</text>
<text x="985.78" y="1124.59" text-anchor="end">ko04918</text>
<text x="990.46" y="1110.86" text-anchor="end">ko04921</text>
<text x="995.99" y="1097.45" text-anchor="end">ko04924</text>
<text x="1002.36" y="1084.41" text-anchor="end">ko04932</text>
<text x="1009.52" y="1071.80" text-anchor="end">ko04964</text>
<text x="1017.46" y="1059.66" text-anchor="end">ko04976</text>
<text x="1026.15" y="1048.04" text-anchor="end">ko05012</text>
<text x="1035.55" y="1036.98" text-anchor="end">ko05020</text>
<text x="1045.61" y="1026.54" text-anchor="end">ko05034</text>
<text x="1056.32" y="1016.75" text-anchor="end">ko05111</text>
<text x="1067.61" y="1007.64" text-anchor="end">ko05132</text>
<text x="1079.46" y="999.26" text-anchor="end">ko05140</text>
<text x="1091.80" y="991.64" text-anchor="end">ko05152</text>
<text x="1104.60" y="984.81" text-anchor="end">ko05166</text>
<text x="1117.80" y="978.79" text-anchor="end">ko05206</text>
<text x="1131.35" y="973.60" text-anchor="end">ko05216</text>
<text x="1145.19" y="969.28" text-anchor="end">ko05222</text>
<text x="1159.28" y="965.83" text-anchor="end">ko05310</text>
<text x="1173.56" y="963.27" text-anchor="end">ko05322</text>
<text x="1187.98" y="961.61" text-anchor="end">ko05340</text>
<text x="1202.46" y="960.85" text-anchor="end">ko05408</text>
</g>
<text x="1240.70" y="1198.70" font-size="27.6" fill="#000" textLength="14.42" lengthAdjust="spacingAndGlyphs" stroke="#000" stroke-width="0.4">2</text>
<text x="1285.47" y="1198.70" font-size="27.6" fill="#000" textLength="15.64" lengthAdjust="spacingAndGlyphs" stroke="#000" stroke-width="0.4">4</text>
<text x="1329.46" y="1198.70" font-size="27.6" fill="#000" textLength="17.08" lengthAdjust="spacingAndGlyphs" stroke="#000" stroke-width="0.4">6</text>
<text x="1376.29" y="1198.70" font-size="27.6" fill="#000" textLength="15.86" lengthAdjust="spacingAndGlyphs" stroke="#000" stroke-width="0.4">8</text>
<text x="1411.78" y="1198.70" font-size="27.6" fill="#000" textLength="29.89" lengthAdjust="spacingAndGlyphs" stroke="#000" stroke-width="0.4">10</text>
<circle cx="1207.8" cy="1183.6" r="44.56" fill="none" stroke="#d9d9d9" stroke-width="3.0"/>
<circle cx="1207.8" cy="1183.6" r="89.12" fill="none" stroke="#d9d9d9" stroke-width="3.0"/>
<circle cx="1207.8" cy="1183.6" r="133.68" fill="none" stroke="#d9d9d9" stroke-width="3.0"/>
<circle cx="1207.8" cy="1183.6" r="178.24" fill="none" stroke="#d9d9d9" stroke-width="3.0"/>
<circle cx="1207.8" cy="1183.6" r="222.80" fill="none" stroke="#d9d9d9" stroke-width="3.0"/>
<line x1="1207.8" y1="1183.6" x2="1411.14" y2="1107.57" stroke="#cf5e14" stroke-width="8.3" stroke-linecap="round"/>
<text x="712.76" y="1010.80" font-size="32.0" fill="#000" textLength="124.83" lengthAdjust="spacingAndGlyphs" stroke="#000" stroke-width="0.45">ko00511</text>
<text x="713.40" y="1054.00" font-size="32.0" fill="#000" textLength="62.45" lengthAdjust="spacingAndGlyphs" stroke="#000" stroke-width="0.45">20.0</text>
<text x="783.26" y="1054.00" font-size="40.96" fill="#000" textLength="20.93" lengthAdjust="spacingAndGlyphs" stroke="#000" stroke-width="0.2">±</text>
<text x="811.22" y="1054.00" font-size="32.0" fill="#000" textLength="44.38" lengthAdjust="spacingAndGlyphs" stroke="#000" stroke-width="0.45">0.2</text>
<text x="1526.37" y="1010.90" font-size="32.0" fill="#000" textLength="124.21" lengthAdjust="spacingAndGlyphs" stroke="#000" stroke-width="0.45">ko00511</text>
<text x="1527.07" y="1054.10" font-size="32.0" fill="#000" textLength="44.81" lengthAdjust="spacingAndGlyphs" stroke="#000" stroke-width="0.45">9.6</text>
<text x="1578.97" y="1054.10" font-size="40.96" fill="#000" textLength="20.82" lengthAdjust="spacingAndGlyphs" stroke="#000" stroke-width="0.2">±</text>
<text x="1606.48" y="1054.10" font-size="32.0" fill="#000" textLength="42.48" lengthAdjust="spacingAndGlyphs" stroke="#000" stroke-width="0.45">0.1</text>
<text x="454.25" y="1500.00" font-size="36.7" fill="#000" textLength="107.26" lengthAdjust="spacingAndGlyphs" stroke="#000" stroke-width="0.45">Model</text>
<text x="569.05" y="1500.00" font-size="36.7" fill="#000" textLength="192.92" lengthAdjust="spacingAndGlyphs" stroke="#000" stroke-width="0.45">Coefficients</text>
<text x="770.75" y="1500.00" font-size="36.7" fill="#000" textLength="45.42" lengthAdjust="spacingAndGlyphs" font-style="italic" stroke="#000" stroke-width="0.45">vs.</text>
<text x="824.63" y="1500.00" font-size="36.7" fill="#000" textLength="60.94" lengthAdjust="spacingAndGlyphs" stroke="#000" stroke-width="0.45">301</text>
<text x="895.84" y="1500.00" font-size="36.7" fill="#000" textLength="89.57" lengthAdjust="spacingAndGlyphs" stroke="#000" stroke-width="0.45">KEGG</text>
<text x="995.48" y="1500.00" font-size="36.7" fill="#000" textLength="153.58" lengthAdjust="spacingAndGlyphs" stroke="#000" stroke-width="0.45">Pathways</text>
</g>
</svg>
</body>
</html>
